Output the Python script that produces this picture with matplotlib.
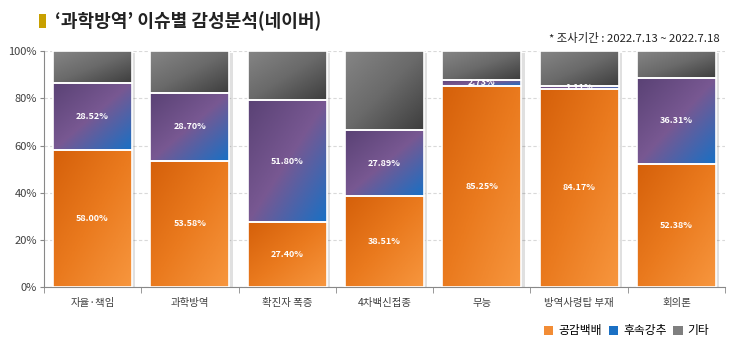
import numpy as np
import matplotlib.pyplot as plt
from matplotlib.colors import LinearSegmentedColormap
from matplotlib.patches import Rectangle

plt.rcParams['font.family'] = ['Noto Sans CJK KR', 'DejaVu Sans']

categories = ['자율·책임', '과학방역', '확진자 폭증', '4차백신접종', '무능', '방역사령탑 부재', '회의론']
agree = [58.00, 53.58, 27.40, 38.51, 85.25, 84.17, 52.38]
recommend = [28.52, 28.70, 51.80, 27.89, 2.73, 1.11, 36.31]
other = [100 - a - r for a, r in zip(agree, recommend)]
series_names = ['공감백배', '후속강추', '기타']

# gradient colour stops (top-left -> bottom-right)
cmaps = [
    LinearSegmentedColormap.from_list('o', ['#d5600a', '#ea7a1e', '#f7963e']),
    LinearSegmentedColormap.from_list('p', ['#5a4275', '#785892', '#1a70c4']),
    LinearSegmentedColormap.from_list('g', ['#858585', '#6a6a6a', '#3e3e3e']),
]
legend_colors = ['#f28c35', '#1a70c4', '#7f7f7f']

fig = plt.figure(figsize=(7.31, 3.48), dpi=100)
ax = fig.add_axes([0.060, 0.175, 0.932, 0.678])

x = np.arange(len(categories))
width = 0.81
grad = np.add.outer(np.linspace(0, 1, 50), np.linspace(0, 1, 50)) / 2

bottoms = np.zeros(len(categories))
for vals, cmap in zip([agree, recommend, other], cmaps):
    for i, v in enumerate(vals):
        b = bottoms[i]
        # soft shadow on the right
        ax.add_patch(Rectangle((x[i] - width / 2 + 0.035, b - 0.6), width, v,
                               facecolor='#000000', alpha=0.12, edgecolor='none', zorder=1))
        rect = Rectangle((x[i] - width / 2, b), width, v, facecolor='none',
                         edgecolor='white', linewidth=1.2, zorder=3)
        ax.add_patch(rect)
        im = ax.imshow(grad, cmap=cmap, aspect='auto', zorder=2,
                       extent=(x[i] - width / 2, x[i] + width / 2, b, b + v), origin='upper')
        im.set_clip_path(rect)
    bottoms += np.array(vals)

# value labels
for i in range(len(categories)):
    ax.text(x[i], agree[i] / 2, f'{agree[i]:.2f}%', ha='center', va='center',
            color='white', fontsize=6.5, fontweight='bold', zorder=4)
    ax.text(x[i], agree[i] + recommend[i] / 2, f'{recommend[i]:.2f}%', ha='center', va='center',
            color='white', fontsize=6.5, fontweight='bold', zorder=4)

ax.set_xlim(-0.5, len(categories) - 0.5)
ax.set_ylim(0, 100)
ax.set_yticks(range(0, 101, 20))
ax.set_yticklabels([f'{t}%' for t in range(0, 101, 20)], fontsize=8, color='#404040')
ax.set_xticks(x)
ax.set_xticklabels(categories, fontsize=7.5, color='#404040')
ax.set_xticks(np.arange(-0.5, len(categories), 1), minor=True)
ax.tick_params(axis='x', which='major', length=0, pad=8)
ax.tick_params(axis='x', which='minor', length=4, color='#888888')
ax.tick_params(axis='y', length=3, color='#888888', pad=2)
ax.grid(axis='y', linestyle=(0, (3, 2)), color='#d9d9d9', linewidth=0.8, zorder=0)
ax.set_axisbelow(True)
for s in ['top', 'right']:
    ax.spines[s].set_visible(False)
for s in ['left', 'bottom']:
    ax.spines[s].set_color('#888888')

# title
fig.patches.append(Rectangle((0.054, 0.92), 0.009, 0.04, transform=fig.transFigure,
                             facecolor='#c8a000', edgecolor='none'))
fig.text(0.075, 0.94, '‘과학방역’ 이슈별 감성분석(네이버)', fontsize=13, fontweight='bold',
         va='center', ha='left', color='#222222')
fig.text(0.985, 0.89, '* 조사기간 : 2022.7.13 ~ 2022.7.18', fontsize=8.2, ha='right',
         va='center', color='#222222')

handles = [Rectangle((0, 0), 1, 1, facecolor=c) for c in legend_colors]
fig.legend(handles, series_names, loc='lower right', bbox_to_anchor=(0.985, 0.0),
           ncol=3, frameon=False, fontsize=8.5, handlelength=0.8, handleheight=0.8,
           handletextpad=0.4, columnspacing=0.6)

fig.savefig('out.png', dpi=100)
